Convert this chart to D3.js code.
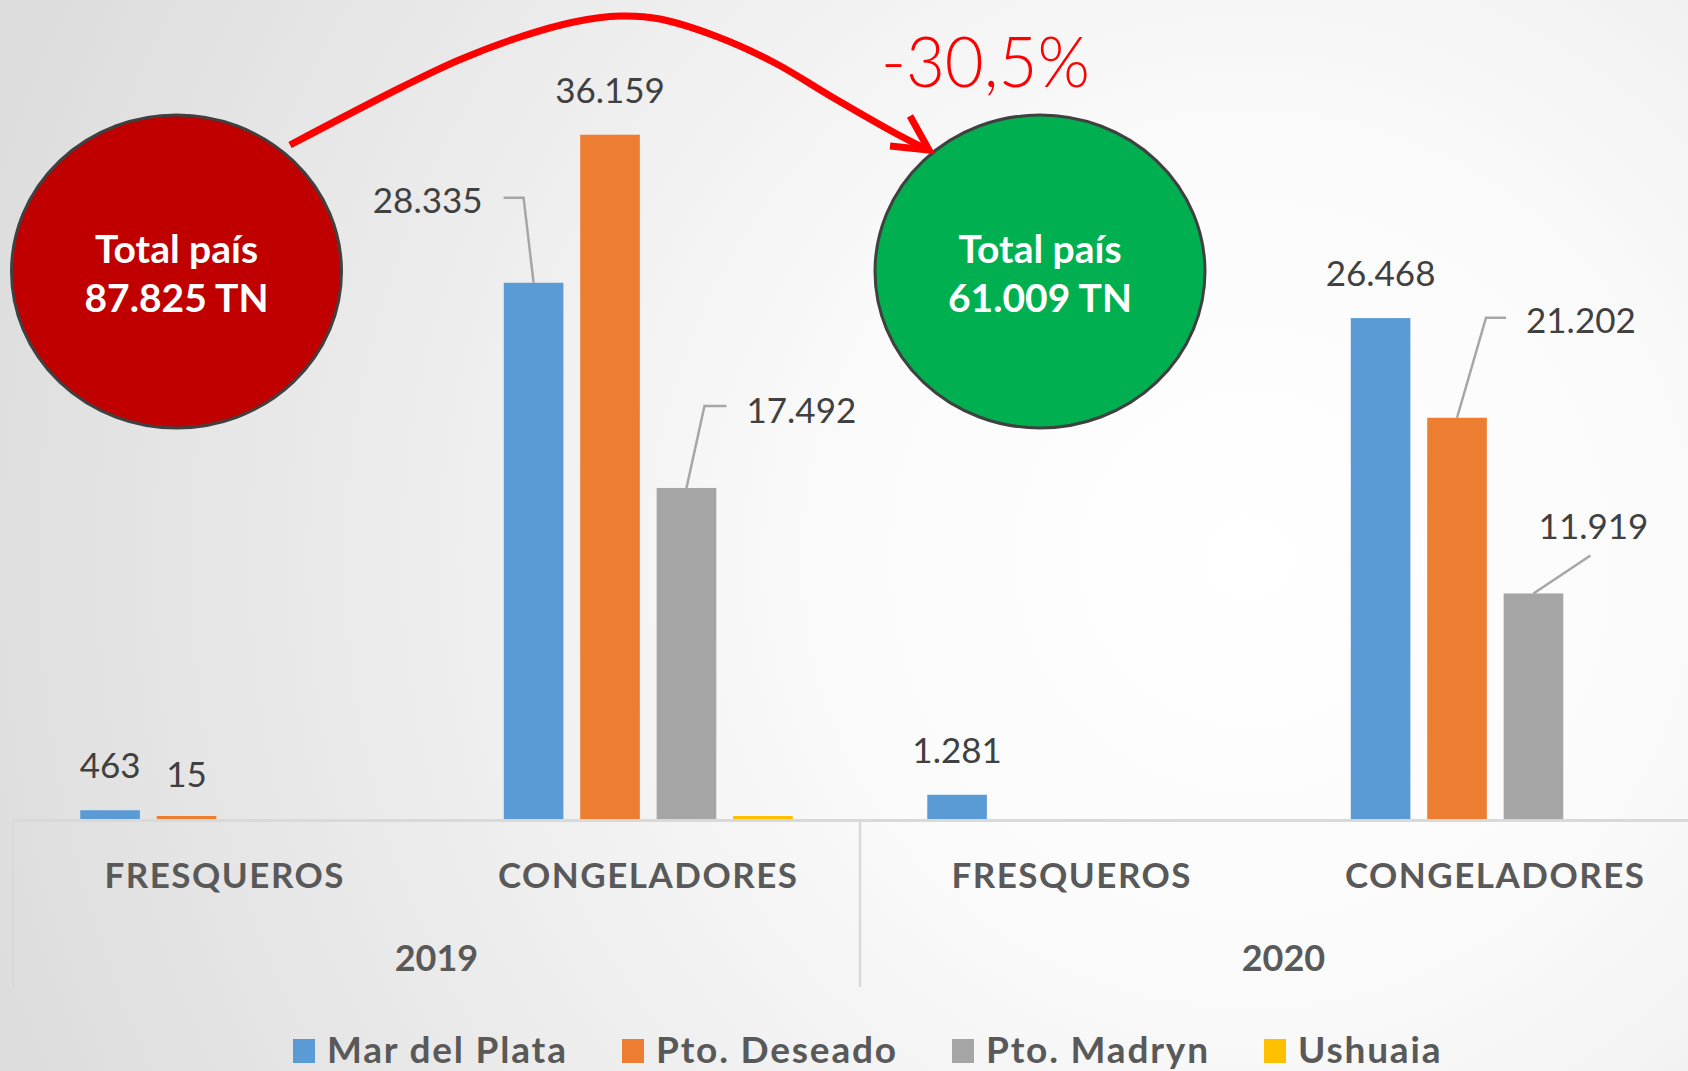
<!DOCTYPE html>
<html>
<head>
<meta charset="utf-8">
<script src="https://cdn.jsdelivr.net/npm/d3@7"></script>
<style>
  body { margin: 0; background: #fff; }
  svg { display: block; }
</style>
</head>
<body>
<div id="maincontent"></div>
<script>
var width = 1688, height = 1071;

// data
var years = ["2019", "2020"];
var categories = ["FRESQUEROS", "CONGELADORES"];
var series = ["Mar del Plata", "Pto. Deseado", "Pto. Madryn", "Ushuaia"];
var colors = ["#5B9BD5", "#ED7D31", "#A5A5A5", "#FFC000"];
// values per group: 2019 fresq, 2019 cong, 2020 fresq, 2020 cong
var marDelPlata = [463, 28335, 1281, 26468];
var ptoDeseado  = [15, 36159, 0, 21202];
var ptoMadryn   = [0, 17492, 0, 11919];
var ushuaia     = [0, 120, 0, 0];
var totals = [87825, 61009];
var change = "-30,5%";

var values = [marDelPlata, ptoDeseado, ptoMadryn, ushuaia];
var hiddenLabels = {"Ushuaia-1": true};

var groups = [];
years.forEach(function (y) { categories.forEach(function (c) { groups.push(y + "|" + c); }); });

var fmt = d3.formatLocale({decimal: ",", thousands: ".", grouping: [3], currency: ["$", ""]}).format(",d");

var svg = d3.select("#maincontent").append("svg")
    .attr("width", width)
    .attr("height", height);

// background
var defs = svg.append("defs");
var grad = defs.append("radialGradient")
    .attr("id", "bg")
    .attr("gradientUnits", "userSpaceOnUse")
    .attr("cx", 1250).attr("cy", 560).attr("r", 1350);
grad.append("stop").attr("offset", "0").attr("stop-color", "#ffffff");
grad.append("stop").attr("offset", "0.3").attr("stop-color", "#fbfbfb");
grad.append("stop").attr("offset", "1").attr("stop-color", "#dcdcdc");
svg.append("rect").attr("width", width).attr("height", height).attr("fill", "url(#bg)");

var baseY = 819;
var x0 = d3.scaleBand().domain(groups).range([13, 1707]);
var x1 = d3.scaleBand().domain(series).range([0, x0.bandwidth()]).paddingInner(0.22).paddingOuter(0.88);
var y = d3.scaleLinear().domain([0, 40000]).range([baseY, 62]);

// bars
var flat = [];
series.forEach(function (s, si) {
    values[si].forEach(function (v, gi) {
        if (v > 0) flat.push({s: s, si: si, g: groups[gi], gi: gi, v: v});
    });
});

svg.append("g").selectAll("rect")
    .data(flat)
    .enter().append("rect")
    .attr("x", function (d) { return x0(d.g) + x1(d.s); })
    .attr("y", function (d) { return Math.min(y(d.v), baseY - 3); })
    .attr("width", x1.bandwidth())
    .attr("height", function (d) { return Math.max(baseY - y(d.v), 3); })
    .attr("fill", function (d) { return colors[d.si]; });

// axis lines
svg.append("line")
    .attr("x1", x0.range()[0]).attr("x2", width)
    .attr("y1", baseY + 1.5).attr("y2", baseY + 1.5)
    .attr("stroke", "#d9d9d9").attr("stroke-width", 3);

var yearScale = d3.scaleBand().domain(years).range(x0.range());
[x0.range()[0], yearScale("2020")].forEach(function (xx) {
    svg.append("line")
        .attr("x1", xx).attr("x2", xx)
        .attr("y1", baseY + 2).attr("y2", 987)
        .attr("stroke", "#d9d9d9").attr("stroke-width", 2.5);
});

svg.append("g").selectAll("text")
    .data(groups)
    .enter().append("text")
    .attr("x", function (d) { return x0(d) + x0.bandwidth() / 2; })
    .attr("y", 888)
    .attr("text-anchor", "middle")
    .attr("font-family", "Lato")
    .attr("font-weight", "bold")
    .attr("font-size", 35)
    .attr("letter-spacing", 1.5)
    .attr("fill", "#595959")
    .text(function (d) { return d.split("|")[1]; });

svg.append("g").selectAll("text")
    .data(years)
    .enter().append("text")
    .attr("x", function (d) { return yearScale(d) + yearScale.bandwidth() / 2; })
    .attr("y", 971)
    .attr("text-anchor", "middle")
    .attr("font-family", "Lato")
    .attr("font-weight", "bold")
    .attr("font-size", 36)
    .attr("fill", "#595959")
    .text(function (d) { return d; });

// data labels (some with leader lines)
var labelLayout = {
    "Mar del Plata-1": {dx: -51, dy: -70, anchor: "end", leader: [[-30, -85], [-10, -85], [0, 0]]},
    "Pto. Madryn-1":   {dx: 60, dy: -65, anchor: "start", leader: [[40, -82], [18, -82], [0, 0]]},
    "Pto. Deseado-3":  {dx: 69, dy: -85, anchor: "start", leader: [[0, 0], [29, -100], [49, -100]]},
    "Pto. Madryn-3":   {dx: 60, dy: -54, anchor: "middle", leader: [[0, 0], [57, -38]]}
};

var lbl = svg.append("g");
flat.forEach(function (d) {
    var key = d.s + "-" + d.gi;
    if (hiddenLabels[key]) return;
    var cx = x0(d.g) + x1(d.s) + x1.bandwidth() / 2;
    var top = y(d.v);
    var lay = labelLayout[key] || {dx: 0, dy: -32, anchor: "middle"};
    if (lay.leader) {
        lbl.append("path")
            .attr("d", d3.line()(lay.leader.map(function (p) { return [cx + p[0], top + p[1]]; })))
            .attr("fill", "none")
            .attr("stroke", "#a6a6a6")
            .attr("stroke-width", 2.5);
    }
    lbl.append("text")
        .attr("x", cx + lay.dx)
        .attr("y", top + lay.dy)
        .attr("text-anchor", lay.anchor)
        .attr("font-family", "Lato")
        .attr("font-size", 35)
        .attr("fill", "#404040")
        .text(fmt(d.v));
});

// legend
var legendX = [293, 622, 952, 1264];
var leg = svg.append("g").selectAll("g")
    .data(series)
    .enter().append("g")
    .attr("transform", function (d, i) { return "translate(" + legendX[i] + ",1039)"; });
leg.append("rect")
    .attr("width", 22).attr("height", 24)
    .attr("fill", function (d, i) { return colors[i]; });
leg.append("text")
    .attr("x", 34).attr("y", 24)
    .attr("font-family", "Lato")
    .attr("font-weight", "bold")
    .attr("font-size", 37)
    .attr("letter-spacing", 1.8)
    .attr("fill", "#595959")
    .text(function (d) { return d; });

// total bubbles
var bubbles = [
    {cx: 176.5, fill: "#C00000", total: totals[0]},
    {cx: 1040, fill: "#00B050", total: totals[1]}
];
var bub = svg.append("g").selectAll("g")
    .data(bubbles)
    .enter().append("g")
    .attr("transform", function (d) { return "translate(" + d.cx + ",271.5)"; });
bub.append("ellipse")
    .attr("rx", 165).attr("ry", 156.5)
    .attr("fill", function (d) { return d.fill; })
    .attr("stroke", "#404040").attr("stroke-width", 3);
bub.append("text")
    .attr("y", -9)
    .attr("text-anchor", "middle")
    .attr("font-family", "Lato").attr("font-weight", "bold").attr("font-size", 39)
    .attr("fill", "#fff")
    .text("Total país");
bub.append("text")
    .attr("y", 40)
    .attr("text-anchor", "middle")
    .attr("font-family", "Lato").attr("font-weight", "bold").attr("font-size", 39)
    .attr("fill", "#fff")
    .text(function (d) { return fmt(d.total) + " TN"; });

// change arrow
var arrowPts = [[290, 145], [402, 87], [459, 60], [517, 38], [574, 22], [620, 16], [660, 19],
                [718, 37], [775, 63], [832, 97], [895, 133], [926, 149]];
svg.append("path")
    .attr("d", d3.line().curve(d3.curveCatmullRom)(arrowPts))
    .attr("fill", "none")
    .attr("stroke", "#FF0000")
    .attr("stroke-width", 7);
svg.append("path")
    .attr("d", d3.line()([[910, 116], [929, 150], [890, 146]]))
    .attr("fill", "none")
    .attr("stroke", "#FF0000")
    .attr("stroke-width", 7)
    .attr("stroke-linejoin", "miter");

svg.append("text")
    .attr("x", 881).attr("y", 87)
    .attr("font-family", "Lato").attr("font-weight", 300).attr("font-size", 70)
    .attr("textLength", 209).attr("lengthAdjust", "spacingAndGlyphs")
    .attr("fill", "#FF0000")
    .text(change);
</script>
</body>
</html>
